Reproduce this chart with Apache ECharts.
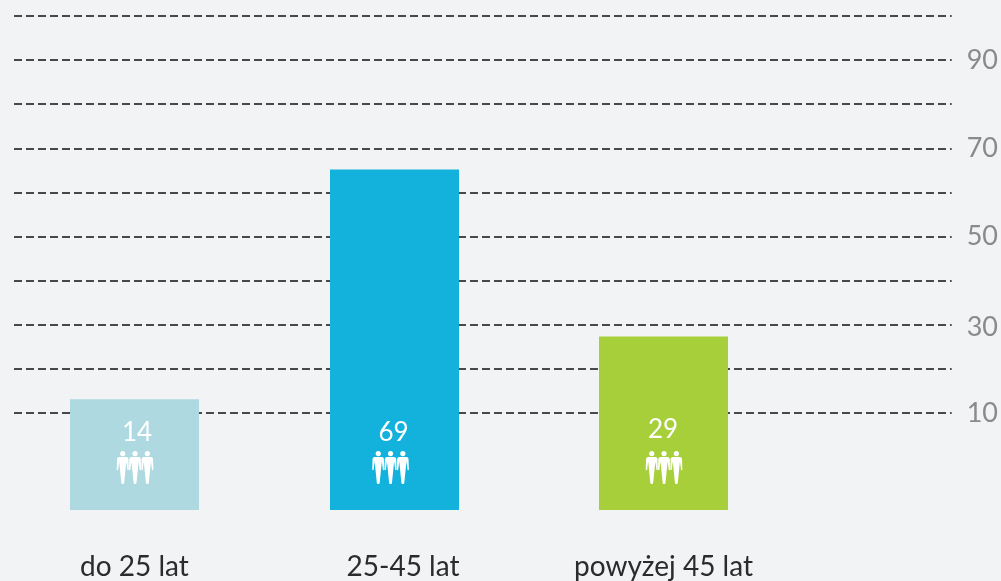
<!DOCTYPE html>
<html>
<head>
<meta charset="utf-8">
<style>
    html, body {margin: 0; padding: 0; background: #f2f3f5;}
    #chart {width: 1001px; height: 581px;}
</style>
</head>
<body>
<div id="chart"></div>
<script src="https://cdn.jsdelivr.net/npm/echarts@6/dist/echarts.min.js"></script>
<script>
const categories = ['do 25 lat', '25-45 lat', 'powyżej 45 lat'];
const values = [14, 69, 29];
const barColors = ['#aed9e0', '#12b2dc', '#a6cf39'];
const gridTicks = [10, 20, 30, 40, 50, 60, 70, 80, 90, 100];
const tickLabels = [10, 30, 50, 70, 90];

// small shifts seen in the picture, the bars are not evenly spread
const barShift = [0, -4.5, 0];
const textShift = [2.5, -1, -0.5];
const iconShift = [0.5, -4, 0.5];
const labelLift = [0, 0, 3];

const font = 'Lato, "Open Sans", sans-serif';
const personPath = 'M6 0a2.6 2.6 0 1 1 0 5.2a2.6 2.6 0 1 1 0-5.2z' +
    'M2.6 6h6.8c1.4 0 2.2.9 2.3 2.2l.3 10.3c0 .9-1.3.9-1.4 0L9.6 10.6 7.4 32c-.1 1.3-2.7 1.3-2.8 0L2.4 10.6 1.4 18.5c-.1.9-1.4.9-1.4 0L.3 8.2C.4 6.9 1.2 6 2.6 6z';

const myChart = echarts.init(document.getElementById('chart'));

function renderBar(params, api) {
    const i = api.value(0);
    const top = api.coord([i, api.value(1)]);
    const base = api.coord([i, -12.5]);
    const cx = top[0] + barShift[i];
    const children = [{
        type: 'rect',
        shape: {x: cx - 64.5, y: top[1], width: 129, height: base[1] - top[1]},
        style: {fill: barColors[i]}
    }, {
        type: 'text',
        style: {
            text: String(api.value(1)),
            x: cx + textShift[i],
            y: base[1] - 77 - labelLift[i],
            align: 'center',
            verticalAlign: 'middle',
            fill: '#fff',
            font: '26px ' + font
        }
    }];
    for (let k = 0; k < 3; k++) {
        children.push({
            type: 'path',
            shape: {pathData: personPath, x: cx + iconShift[i] - 18.5 + k * 12.3, y: base[1] - 59, width: 12.5, height: 33},
            style: {fill: '#fff'}
        });
    }
    return {type: 'group', children};
}

myChart.setOption({
    backgroundColor: '#f2f3f5',
    animation: false,
    grid: [
        {left: 14, top: 16, width: 938, height: 494},
        {left: 2.25, top: 16, width: 793.5, height: 494}
    ],
    xAxis: [{
        type: 'value',
        gridIndex: 0,
        show: false
    }, {
        type: 'category',
        gridIndex: 1,
        data: categories,
        axisLine: {show: false},
        axisTick: {show: false},
        axisLabel: {
            margin: 43,
            interval: 0,
            color: '#2b2b2b',
            fontSize: 28,
            fontFamily: font,
            formatter(val) {
                return val === '25-45 lat' ? '{mid|' + val + '}' : val;
            },
            rich: {
                mid: {padding: [0, 0, 0, 8], color: '#2b2b2b', fontSize: 28, fontFamily: font}
            }
        }
    }],
    yAxis: [{
        type: 'value',
        gridIndex: 0,
        position: 'right',
        min: -12,
        max: 100,
        axisLine: {show: false},
        axisTick: {show: false, customValues: gridTicks},
        splitLine: {show: true, lineStyle: {color: '#111', width: 1.5, type: [8, 4]}},
        axisLabel: {
            customValues: tickLabels,
            margin: 15,
            color: '#8a8a8a',
            fontSize: 27,
            fontFamily: font,
            formatter(val) {
                return val === 30 ? '{low|' + val + '}' : String(val);
            },
            rich: {
                low: {padding: [5, 0, 0, 0], color: '#8a8a8a', fontSize: 27, fontFamily: font}
            }
        }
    }, {
        type: 'value',
        gridIndex: 1,
        show: false,
        min: -12.5,
        max: 105.7
    }],
    series: [{
        type: 'custom',
        xAxisIndex: 1,
        yAxisIndex: 1,
        z: 5,
        renderItem: renderBar,
        data: values.map((v, i) => [i, v])
    }]
});
</script>
</body>
</html>
